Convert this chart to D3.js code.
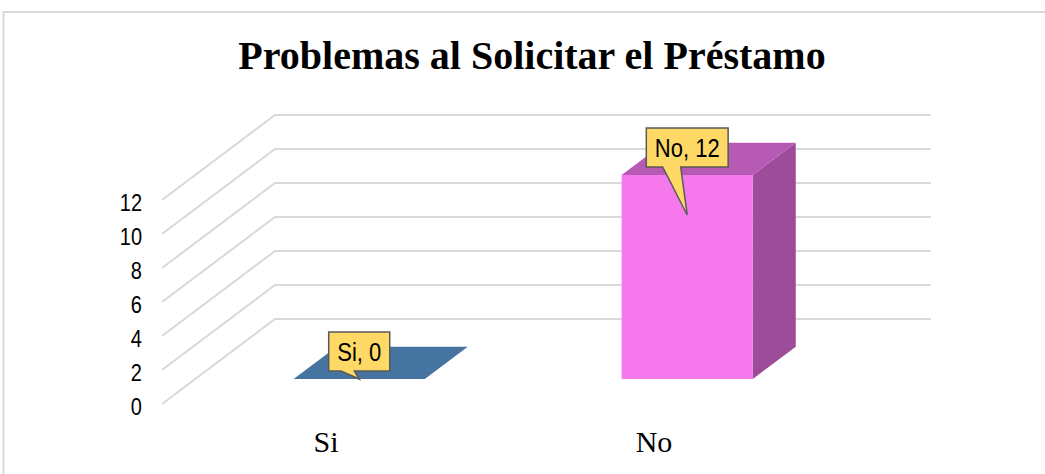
<!DOCTYPE html>
<html>
<head>
<meta charset="utf-8">
<style>
  body { margin: 0; background: #fff; }
  svg { display: block; }
</style>
</head>
<body>
<svg width="1045" height="474"></svg>
<script src="https://d3js.org/d3.v7.min.js"></script>
<script>
// chart data
var categories = ["Si", "No"];
var values = [0, 12];
var yTicks = [0, 2, 4, 6, 8, 10, 12];
var chartTitle = "Problemas al Solicitar el Préstamo";
var frontColors = ["#5a8cc0", "#f578ec"];
var sideColors = ["#3a6490", "#9c4c98"];
var topColors = ["#4674a0", "#b65ab5"];

var svg = d3.select("svg");

// frame of the chart area
svg.append("rect")
    .attr("x", 3.5).attr("y", 12)
    .attr("width", 1100).attr("height", 500)
    .attr("fill", "none")
    .attr("stroke", "#d9d9d9")
    .attr("stroke-width", 2);

// front plane scales plus a depth vector for the 3d look
var x = d3.scaleBand().domain(categories).range([162, 818]);
var y = d3.scaleLinear().domain([0, 12]).range([404, 200]);
var depth = { dx: 113, dy: -85 };
var barT0 = 0.294, barT1 = 0.674;
var barW = x.bandwidth() * 0.4;

function px(X, t) { return X + depth.dx * t; }
function py(Y, t) { return Y + depth.dy * t; }

// gridlines: floor diagonal + back wall horizontal
var grid = svg.append("g");
yTicks.forEach(function(v) {
  var Y = y(v);
  grid.append("path")
      .attr("d", "M" + x.range()[0] + "," + Y +
                 "L" + px(x.range()[0], 1) + "," + py(Y, 1) +
                 "L" + px(x.range()[1], 1) + "," + py(Y, 1))
      .attr("fill", "none")
      .attr("stroke", "#d9d9d9")
      .attr("stroke-width", 2);
});

// y axis labels
svg.append("g").selectAll("text")
    .data(yTicks)
    .join("text")
    .attr("transform", function(d) { return "translate(142," + (y(d) + 10.5) + ") scale(1,1.17)"; })
    .attr("text-anchor", "end")
    .attr("font-family", "Liberation Sans, Arial, sans-serif")
    .attr("font-size", 20)
    .attr("fill", "#000")
    .text(function(d) { return d; });

// bars
var bars = svg.append("g");
categories.forEach(function(c, i) {
  var xl = x(c) + (x.bandwidth() - barW) / 2, xr = xl + barW;
  var yt = y(values[i]), yb = y(0);
  var fxl = px(xl, barT0), fxr = px(xr, barT0);
  var fyt = py(yt, barT0), fyb = py(yb, barT0);
  var bxl = px(xl, barT1), bxr = px(xr, barT1);
  var byt = py(yt, barT1), byb = py(yb, barT1);
  // side
  bars.append("path")
      .attr("d", "M" + fxr + "," + fyt + "L" + bxr + "," + byt + "L" + bxr + "," + byb + "L" + fxr + "," + fyb + "Z")
      .attr("fill", sideColors[i]);
  // top
  bars.append("path")
      .attr("d", "M" + fxl + "," + fyt + "L" + fxr + "," + fyt + "L" + bxr + "," + byt + "L" + bxl + "," + byt + "Z")
      .attr("fill", topColors[i]);
  // front
  bars.append("rect")
      .attr("x", fxl).attr("y", fyt)
      .attr("width", barW).attr("height", fyb - fyt)
      .attr("fill", frontColors[i]);
});

// data label callouts
var labels = svg.append("g");
categories.forEach(function(c, i) {
  var cx = px(x(c) + x.bandwidth() / 2, barT0);
  var top = py(y(values[i]), barT0), bottom = py(y(0), barT0);
  var tipY = Math.min(top + 40, bottom);
  var g = labels.append("g");
  var txt = g.append("text")
      .attr("font-family", "Liberation Sans, Arial, sans-serif")
      .attr("font-size", 22)
      .attr("text-anchor", "middle")
      .attr("fill", "#000")
      .text(c + ", " + values[i]);
  var w = txt.node().getComputedTextLength() + 17, h = 39;
  var bx = cx - w / 2, byBottom = top - 8, byTop = byBottom - h;
  g.insert("path", "text")
      .attr("d", "M" + bx + "," + byTop + "H" + (bx + w) + "V" + byBottom +
                 "H" + (cx - 0.08 * w) + "L" + cx + "," + tipY +
                 "L" + (cx - 0.3 * w) + "," + byBottom + "H" + bx + "Z")
      .attr("fill", "#ffd966")
      .attr("stroke", "#595959")
      .attr("stroke-width", 1.5);
  txt.attr("transform", "translate(" + cx + "," + (byTop + h / 2 + 9) + ") scale(1,1.2)");
});

// category labels
svg.append("g").selectAll("text")
    .data(categories)
    .join("text")
    .attr("x", function(d) { return x(d) + x.bandwidth() / 2; })
    .attr("y", 452)
    .attr("text-anchor", "middle")
    .attr("font-family", "Liberation Serif, Times New Roman, serif")
    .attr("font-size", 30)
    .attr("fill", "#000")
    .text(function(d) { return d; });

// title
svg.append("text")
    .attr("x", 532).attr("y", 69)
    .attr("text-anchor", "middle")
    .attr("font-family", "Liberation Serif, Times New Roman, serif")
    .attr("font-weight", "bold")
    .attr("font-size", 40)
    .attr("fill", "#000")
    .text(chartTitle);
</script>
</body>
</html>
